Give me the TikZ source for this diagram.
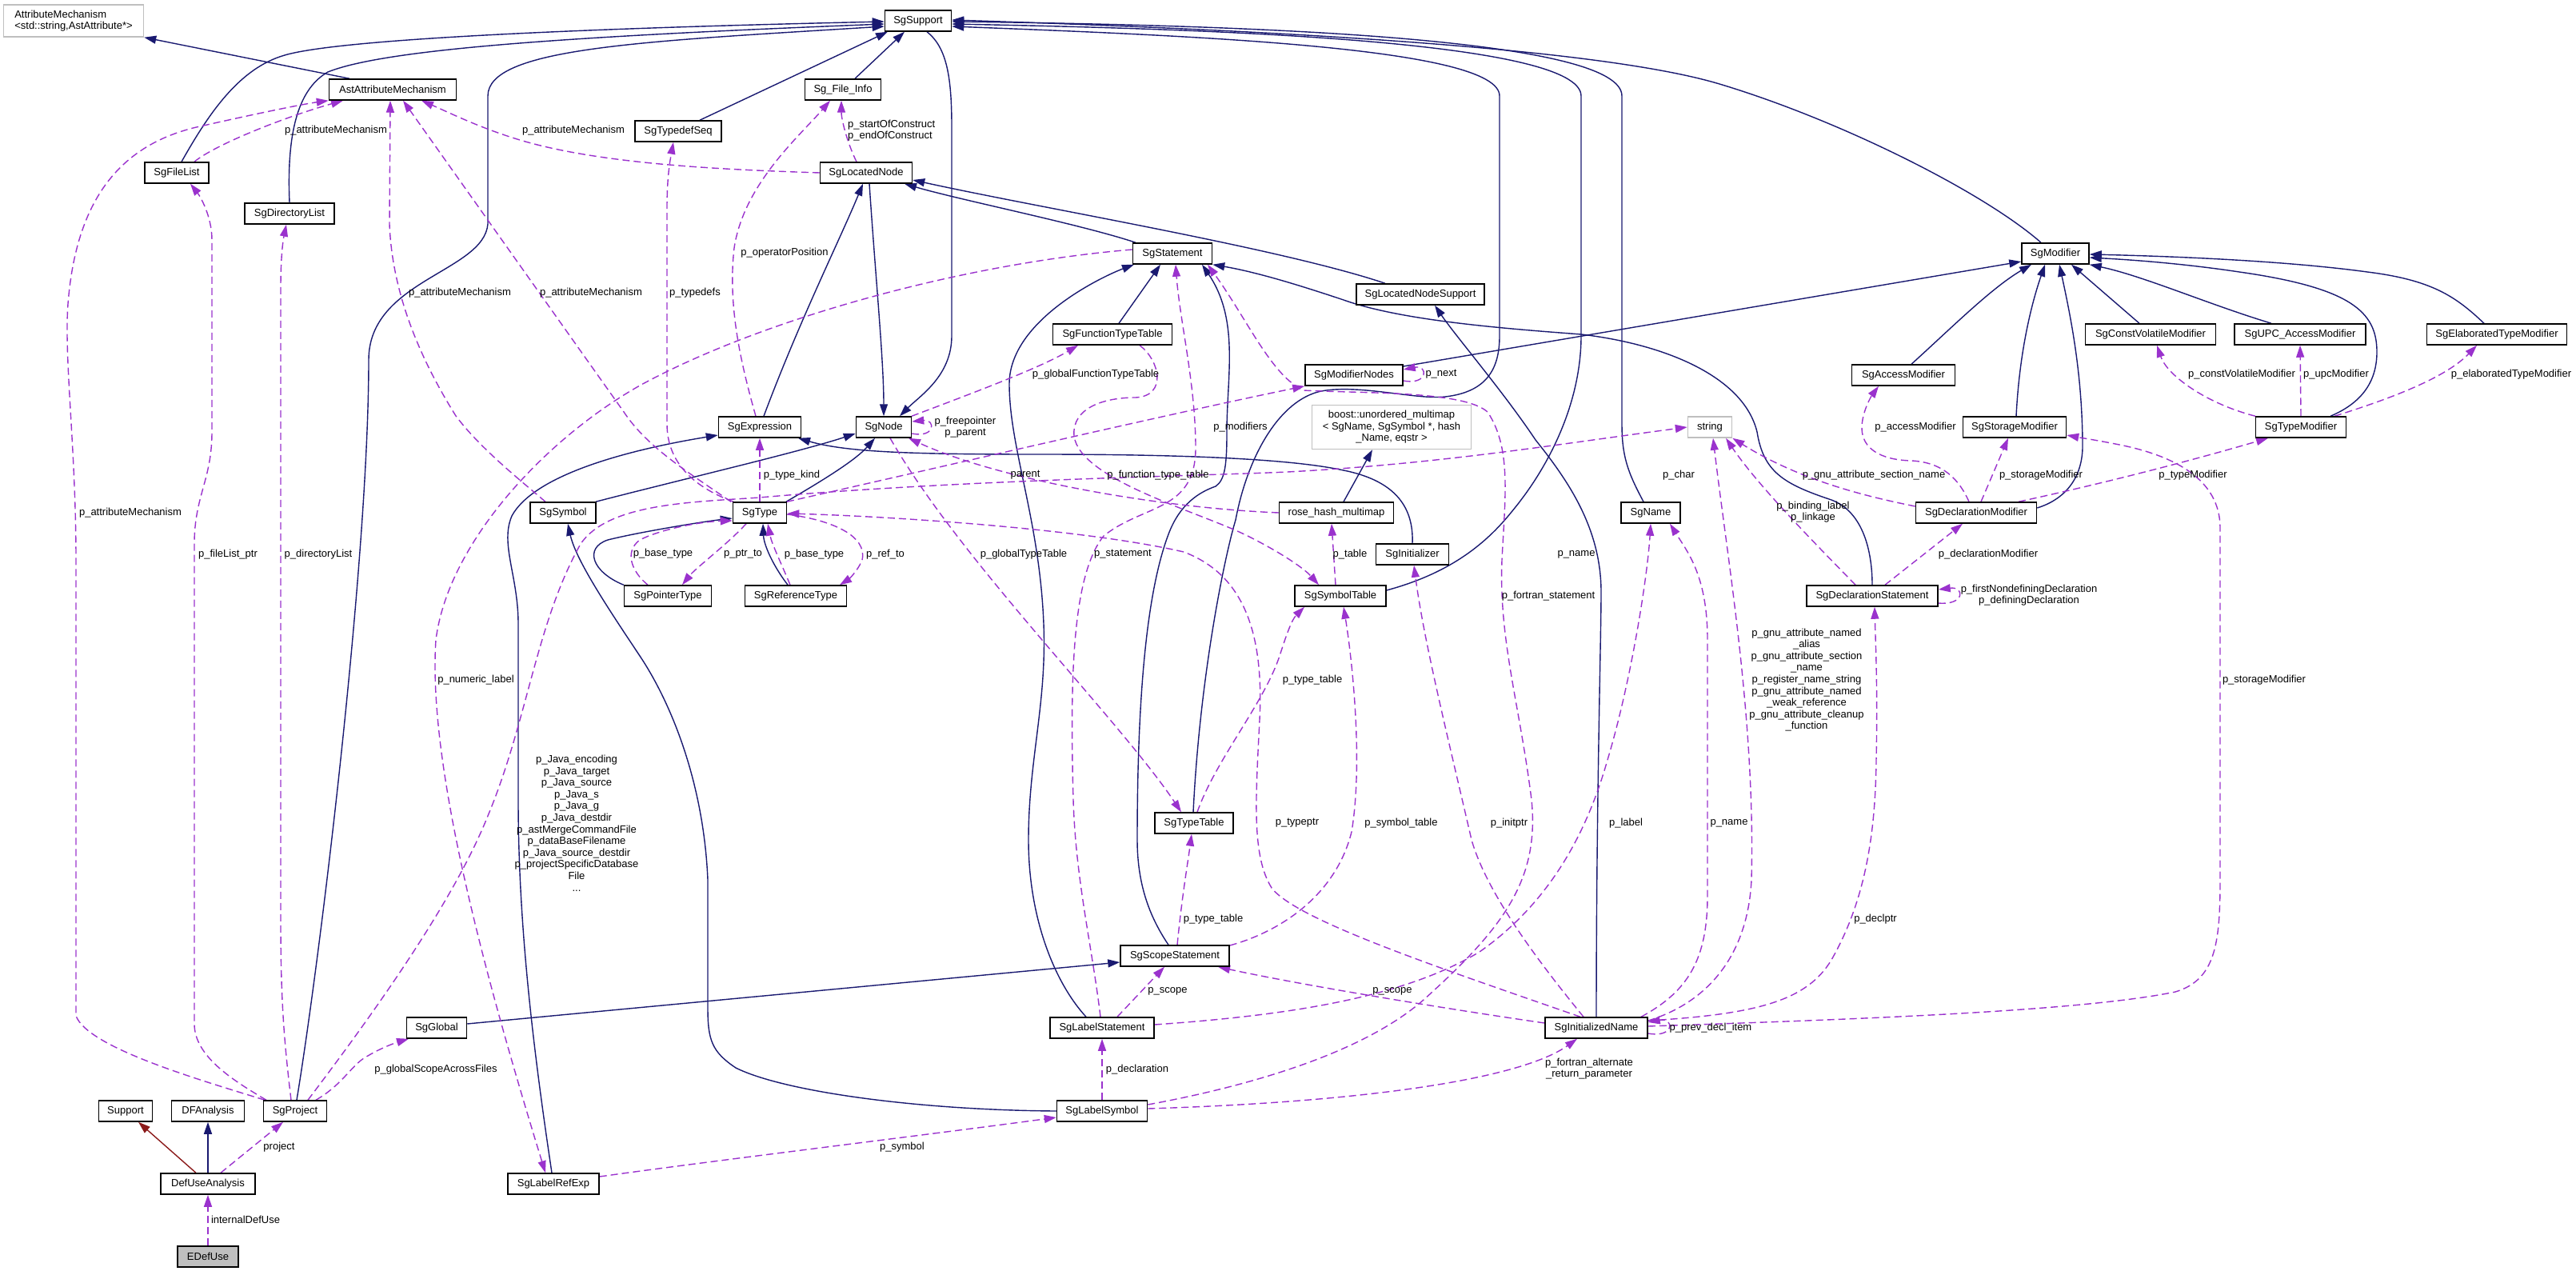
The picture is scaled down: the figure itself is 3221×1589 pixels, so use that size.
\documentclass[tikz,border=0pt]{standalone}
\usepackage{fontspec}
\setmainfont{Liberation Sans}
\usetikzlibrary{arrows.meta}
\pgfdeclarelayer{edgelayer}
\pgfsetlayers{edgelayer,main}
\definecolor{edgenavy}{HTML}{191970}
\definecolor{edgeorchid}{HTML}{9A32CD}
\definecolor{edgered}{HTML}{8B1A1A}
\definecolor{boxgrey}{HTML}{BFBFBF}
\newcommand\dxfont{\fontsize{13}{14.6}\selectfont}
\begin{document}
\begin{tikzpicture}[x=1pt,y=-1pt,
  cls/.style={draw=black, line width=1.5pt, fill=white, minimum height=26pt, inner xsep=2pt, inner ysep=0pt, font=\dxfont},
  gcls/.style={cls, draw=boxgrey},
  inh/.style={draw=edgenavy, line width=1.4pt, -{Triangle[length=15pt,width=10pt]}},
  priv/.style={inh, draw=edgered},
  use/.style={draw=edgeorchid, line width=1.4pt, dash pattern=on 9pt off 5pt, -{Triangle[length=15pt,width=10pt]}},
  lbl/.style={font=\dxfont, inner sep=0pt, align=center},
]
\useasboundingbox (0,0) rectangle (3221,1589);

% ---------------- nodes
\node[gcls, minimum width=175pt, minimum height=40pt, align=left] (attrmech) at (92,26) {AttributeMechanism\\<std::string,AstAttribute*>};
\node[cls, minimum width=83pt] (support) at (1148,26) {SgSupport};
\node[cls, minimum width=159pt] (ast) at (491,112) {AstAttributeMechanism};
\node[cls, minimum width=95pt] (fileinfo) at (1054,112) {Sg\_File\_Info};
\node[cls, minimum width=108pt] (typedefseq) at (848,164) {SgTypedefSeq};
\node[cls, minimum width=80pt] (filelist) at (221,216) {SgFileList};
\node[cls, minimum width=115pt] (locnode) at (1083,216) {SgLocatedNode};
\node[cls, minimum width=112pt] (dirlist) at (362,267) {SgDirectoryList};
\node[cls, minimum width=99pt] (stmt) at (1466,317) {SgStatement};
\node[cls, minimum width=84pt] (modifier) at (2570,317) {SgModifier};
\node[cls, minimum width=160pt] (lns) at (1776,368) {SgLocatedNodeSupport};
\node[cls, minimum width=149pt] (ftt) at (1391,418) {SgFunctionTypeTable};
\node[cls, minimum width=163pt] (cv) at (2689,418) {SgConstVolatileModifier};
\node[cls, minimum width=164pt] (upc) at (2876,418) {SgUPC\_AccessModifier};
\node[cls, minimum width=175pt] (elab) at (3122,418) {SgElaboratedTypeModifier};
\node[cls, minimum width=122pt] (modnodes) at (1693,469) {SgModifierNodes};
\node[cls, minimum width=129pt] (access) at (2380,469) {SgAccessModifier};
\node[cls, minimum width=103pt] (expr) at (950,534) {SgExpression};
\node[cls, minimum width=69pt] (sgnode) at (1105,534) {SgNode};
\node[gcls, minimum width=199pt, minimum height=55pt, align=center] (boost) at (1740,534) {boost::unordered\_multimap\\< SgName, SgSymbol *, hash\\\_Name, eqstr >};
\node[gcls, minimum width=55pt] (string) at (2138,534) {string};
\node[cls, minimum width=129pt] (storage) at (2519,534) {SgStorageModifier};
\node[cls, minimum width=113pt] (typemod) at (2877,534) {SgTypeModifier};
\node[cls, minimum width=82pt] (symbol) at (704,641) {SgSymbol};
\node[cls, minimum width=67pt] (type) at (950,641) {SgType};
\node[cls, minimum width=143pt] (rosehash) at (1671,641) {rose\_hash\_multimap};
\node[cls, minimum width=74pt] (sgname) at (2064,641) {SgName};
\node[cls, minimum width=151pt] (declmod) at (2471,641) {SgDeclarationModifier};
\node[cls, minimum width=91pt] (initializer) at (1766,693) {SgInitializer};
\node[cls, minimum width=109pt] (ptrtype) at (835,745) {SgPointerType};
\node[cls, minimum width=127pt] (reftype) at (995,745) {SgReferenceType};
\node[cls, minimum width=114pt] (symtab) at (1676,745) {SgSymbolTable};
\node[cls, minimum width=164pt] (declstmt) at (2341,745) {SgDeclarationStatement};
\node[cls, minimum width=98pt] (typetable) at (1493,1029) {SgTypeTable};
\node[cls, minimum width=136pt] (scope) at (1469,1195) {SgScopeStatement};
\node[cls, minimum width=75pt] (global) at (546,1285) {SgGlobal};
\node[cls, minimum width=130pt] (labelstmt) at (1378,1285) {SgLabelStatement};
\node[cls, minimum width=128pt] (initname) at (1996,1285) {SgInitializedName};
\node[cls, minimum width=67pt] (supportb) at (157,1389) {Support};
\node[cls, minimum width=91pt] (dfa) at (260,1389) {DFAnalysis};
\node[cls, minimum width=79pt] (project) at (369,1389) {SgProject};
\node[cls, minimum width=113pt] (labelsym) at (1378,1389) {SgLabelSymbol};
\node[cls, minimum width=118pt] (defuse) at (260,1480) {DefUseAnalysis};
\node[cls, minimum width=114pt] (labelref) at (692,1480) {SgLabelRefExp};
\node[cls, fill=boxgrey, minimum width=76pt] (edefuse) at (260,1571) {EDefUse};

% ---------------- labels
\node[lbl] (t1) at (420,163) {p\_attributeMechanism};
\node[lbl] (t2) at (717,163) {p\_attributeMechanism};
\node[lbl] (t3) at (575,366) {p\_attributeMechanism};
\node[lbl] (t4) at (739,366) {p\_attributeMechanism};
\node[lbl] (t5) at (163,641) {p\_attributeMechanism};
\node[lbl, align=left, anchor=west] (t6) at (1060,163) {p\_startOfConstruct\\p\_endOfConstruct};
\node[lbl] (t7) at (981,316) {p\_operatorPosition};
\node[lbl] (t8) at (869,366) {p\_typedefs};
\node[lbl] (t9) at (1370,468) {p\_globalFunctionTypeTable};
\node[lbl] (t10) at (1207,534) {p\_freepointer\\p\_parent};
\node[lbl] (t11) at (1551,534) {p\_modifiers};
\node[lbl] (t12) at (1802,468) {p\_next};
\node[lbl] (t13) at (2395,534) {p\_accessModifier};
\node[lbl] (t14) at (2803,468) {p\_constVolatileModifier};
\node[lbl] (t15) at (2921,468) {p\_upcModifier};
\node[lbl] (t16) at (3140,468) {p\_elaboratedTypeModifier};
\node[lbl] (t17) at (285,693) {p\_fileList\_ptr};
\node[lbl] (t18) at (398,693) {p\_directoryList};
\node[lbl] (t19) at (595,850) {p\_numeric\_label};
\node[lbl] (t20) at (721,1029) {p\_Java\_encoding\\p\_Java\_target\\p\_Java\_source\\p\_Java\_s\\p\_Java\_g\\p\_Java\_destdir\\p\_astMergeCommandFile\\p\_dataBaseFilename\\p\_Java\_source\_destdir\\p\_projectSpecificDatabase\\File\\...};
\node[lbl] (t21) at (990,594) {p\_type\_kind};
\node[lbl] (t22) at (1282,594) {parent};
\node[lbl] (t23) at (1448,594) {p\_function\_type\_table};
\node[lbl] (t24) at (829,692) {p\_base\_type};
\node[lbl] (t25) at (929,693) {p\_ptr\_to};
\node[lbl] (t26) at (1018,693) {p\_base\_type};
\node[lbl] (t27) at (1107,693) {p\_ref\_to};
\node[lbl] (t28) at (1280,693) {p\_globalTypeTable};
\node[lbl] (t29) at (1404,693) {p\_statement};
\node[lbl] (t30) at (1688,693) {p\_table};
\node[lbl] (t31) at (1971,693) {p\_name};
\node[lbl] (t32) at (2099,594) {p\_char};
\node[lbl] (t33) at (2267,640) {p\_binding\_label\\p\_linkage};
\node[lbl] (t34) at (2343,594) {p\_gnu\_attribute\_section\_name};
\node[lbl] (t35) at (2552,594) {p\_storageModifier};
\node[lbl] (t36) at (2742,594) {p\_typeModifier};
\node[lbl] (t37) at (2486,693) {p\_declarationModifier};
\node[lbl] (t38) at (2537,744) {p\_firstNondefiningDeclaration\\p\_definingDeclaration};
\node[lbl] (t39) at (1936,745) {p\_fortran\_statement};
\node[lbl] (t40) at (1641,850) {p\_type\_table};
\node[lbl] (t41) at (2259,850) {p\_gnu\_attribute\_named\\\_alias\\p\_gnu\_attribute\_section\\\_name\\p\_register\_name\_string\\p\_gnu\_attribute\_named\\\_weak\_reference\\p\_gnu\_attribute\_cleanup\\\_function};
\node[lbl] (t42) at (2831,850) {p\_storageModifier};
\node[lbl] (t43) at (1622,1029) {p\_typeptr};
\node[lbl] (t44) at (1752,1029) {p\_symbol\_table};
\node[lbl] (t45) at (1887,1029) {p\_initptr};
\node[lbl] (t46) at (2033,1029) {p\_label};
\node[lbl] (t47) at (2162,1029) {p\_name};
\node[lbl] (t48) at (1517,1149) {p\_type\_table};
\node[lbl] (t49) at (2345,1149) {p\_declptr};
\node[lbl] (t50) at (1460,1239) {p\_scope};
\node[lbl] (t51) at (1741,1239) {p\_scope};
\node[lbl] (t52) at (545,1337) {p\_globalScopeAcrossFiles};
\node[lbl] (t53) at (1422,1337) {p\_declaration};
\node[lbl] (t54) at (1987,1336) {p\_fortran\_alternate\\\_return\_parameter};
\node[lbl] (t55) at (2139,1285) {p\_prev\_decl\_item};
\node[lbl] (t56) at (349,1434) {project};
\node[lbl] (t57) at (1128,1434) {p\_symbol};
\node[lbl] (t58) at (307,1525) {internalDefUse};

\begin{pgfonlayer}{edgelayer}
% ---------------- inheritance
\draw[inh] ([xshift=-54pt]ast.north) -- (attrmech.south east);
\draw[inh] ([xshift=6pt]filelist.north) .. controls (262,140) and (300,85) .. (356,69) .. controls (420,50) and (700,36) .. ([yshift=-1pt]support.west);
\draw[inh] (dirlist.north) .. controls (358,160) and (375,110) .. (410,90) .. controls (480,62) and (700,46) .. ([yshift=-4pt]support.west);
\draw[inh] ([xshift=2pt]project.north) .. controls (400,1200) and (461,700) .. (461,450) .. controls (461,350) and (605,340) .. (610,280) -- (610,120) .. controls (610,60) and (800,52) .. ([yshift=-7pt]support.west);
\draw[inh] ([xshift=27pt]typedefseq.north) -- ([xshift=-38pt]support.south);
\draw[inh] ([xshift=15pt]fileinfo.north) -- ([xshift=-17pt]support.south);
\draw[inh] ([xshift=11pt]support.south) .. controls (1185,60) and (1190,100) .. (1190,160) -- (1190,420) .. controls (1190,470) and (1150,495) .. ([xshift=20pt]sgnode.north);
\draw[inh] ([xshift=4pt]locnode.south) .. controls (1095,350) and (1105,450) .. (sgnode.north);
\draw[inh] ([xshift=5pt]expr.north) .. controls (1000,400) and (1050,300) .. ([xshift=-4pt]locnode.south);
\draw[inh] ([xshift=-46pt]stmt.north) .. controls (1350,280) and (1200,250) .. ([xshift=48pt]locnode.south);
\draw[inh] ([xshift=-44pt]lns.north) .. controls (1600,310) and (1300,260) .. ([yshift=-9pt]locnode.east);
\draw[inh] ([xshift=8pt]ftt.north) -- ([xshift=-15pt]stmt.south);
\draw[inh] ([xshift=-20pt]labelstmt.north) .. controls (1320,1230) and (1286,1150) .. (1286,1050) .. controls (1286,950) and (1309,880) .. (1305,780) .. controls (1300,650) and (1262,560) .. (1262,480) .. controls (1262,400) and (1380,345) .. ([xshift=-48pt]stmt.south);
\draw[inh] ([xshift=-8pt]scope.north) .. controls (1440,1150) and (1422,1110) .. (1422,1050) .. controls (1422,900) and (1430,750) .. (1461,668) .. controls (1475,630) and (1500,615) .. (1520,608) .. controls (1532,600) and (1534,580) .. (1534,540) .. controls (1534,470) and (1550,400) .. ([xshift=37pt]stmt.south);
\draw[inh] (declstmt.north) .. controls (2341,690) and (2330,640) .. (2290,625) .. controls (2230,605) and (2205,590) .. (2197,540) .. controls (2180,470) and (2080,430) .. (1977,418) .. controls (1870,410) and (1750,400) .. (1680,375) .. controls (1620,355) and (1570,340) .. (stmt.south east);
\draw[inh] (initname.north) .. controls (1996,1000) and (2002,800) .. (2002,740) .. controls (2002,660) and (1960,600) .. (1920,550) .. controls (1880,490) and (1820,420) .. ([xshift=18pt]lns.south);
\draw[inh] ([xshift=41pt]symbol.north) .. controls (850,600) and (1000,565) .. ([yshift=-8pt]sgnode.west);
\draw[inh] ([xshift=33pt]type.north) .. controls (1030,600) and (1070,575) .. ([xshift=-11pt]sgnode.south);
\draw[inh] ([xshift=-2pt]labelref.north) .. controls (665,1300) and (648,1150) .. (648,1000) -- (648,780) .. controls (648,720) and (625,680) .. (640,645) .. controls (670,590) and (800,560) .. ([yshift=-10pt]expr.west);
\draw[inh] (initializer.north) .. controls (1768,630) and (1740,600) .. (1680,588) .. controls (1620,575) and (1500,568) .. (1300,568) .. controls (1150,568) and (1060,566) .. ([xshift=48pt]expr.south);
\draw[inh] (labelsym.west) .. controls (1150,1388) and (980,1365) .. (920,1335) .. controls (890,1315) and (885,1300) .. (885,1260) -- (885,1100) .. controls (880,980) and (840,880) .. (800,820) .. controls (760,760) and (720,700) .. ([xshift=6pt]symbol.south);
\draw[inh] (ptrtype.north west) .. controls (740,715) and (730,685) .. (760,675) .. controls (800,665) and (880,652) .. ([yshift=-7pt]type.west);
\draw[inh] ([xshift=-10pt]reftype.north) .. controls (965,705) and (955,680) .. ([xshift=4pt]type.south);
\draw[inh] ([yshift=5pt]global.east) -- ([yshift=-8pt]scope.west);
\draw[inh] ([xshift=9pt]rosehash.north) -- ([xshift=-24pt]boost.south);
\draw[inh] ([yshift=11pt]modnodes.east) -- ([yshift=-10pt]modifier.west);
\draw[inh] ([xshift=10pt]access.north) .. controls (2440,410) and (2490,360) .. ([xshift=-30pt]modifier.south);
\draw[inh] ([xshift=2pt]storage.north) .. controls (2525,440) and (2540,380) .. ([xshift=-13pt]modifier.south);
\draw[inh] ([yshift=6pt]declmod.east) .. controls (2580,625) and (2603,600) .. (2604,560) .. controls (2604,470) and (2590,400) .. ([xshift=5pt]modifier.south);
\draw[inh] ([xshift=-14pt]cv.north) -- ([xshift=20pt]modifier.south);
\draw[inh] ([xshift=-36pt]upc.north) .. controls (2760,380) and (2680,345) .. (modifier.south east);
\draw[inh] ([xshift=37pt]typemod.north) .. controls (2950,505) and (2972,480) .. (2972,440) .. controls (2972,390) and (2940,360) .. (2800,340) .. controls (2720,328) and (2650,324) .. ([yshift=-5pt]modifier.east);
\draw[inh] ([xshift=-16pt]elab.north) .. controls (3070,370) and (3040,350) .. (2960,340) .. controls (2850,325) and (2700,320) .. ([yshift=-1pt]modifier.east);
\draw[inh] ([xshift=-18pt]modifier.north) .. controls (2480,240) and (2300,150) .. (2150,105) .. controls (2000,60) and (1600,38) .. ([yshift=1pt]support.east);
\draw[inh] ([xshift=-1pt]typetable.north) .. controls (1500,850) and (1530,700) .. (1545,650) .. controls (1560,570) and (1600,500) .. (1652,489) .. controls (1700,480) and (1770,500) .. (1807,496) .. controls (1860,490) and (1875,460) .. (1875,420) -- (1875,120) .. controls (1875,60) and (1500,45) .. ([yshift=-7pt]support.east);
\draw[inh] ([yshift=7pt]symtab.east) .. controls (1800,720) and (1850,690) .. (1890,640) .. controls (1940,580) and (1977,500) .. (1977,420) -- (1977,120) .. controls (1977,50) and (1500,36) .. ([yshift=-4pt]support.east);
\draw[inh] ([xshift=-9pt]sgname.north) .. controls (2035,590) and (2028,570) .. (2028,530) -- (2028,120) .. controls (2028,50) and (1600,32) .. ([yshift=-1pt]support.east);
\draw[priv] ([xshift=-15pt]defuse.north) -- ([xshift=16pt]supportb.south);
\draw[inh] (defuse.north) -- (dfa.south);

% ---------------- usage
\draw[use] ([xshift=-38pt]project.north) .. controls (250,1350) and (110,1310) .. (95,1270) -- (95,700) .. controls (95,560) and (80,450) .. (85,380) .. controls (95,250) and (150,180) .. (250,158) .. controls (330,140) and (380,130) .. (ast.south west);
\draw[use] ([xshift=22pt]filelist.north) .. controls (270,180) and (360,145) .. ([xshift=-62pt]ast.south);
\draw[use] (locnode.west) .. controls (900,212) and (750,205) .. (650,175) .. controls (600,160) and (560,140) .. ([xshift=36pt]ast.south);
\draw[use] ([xshift=-22pt]symbol.north) .. controls (650,600) and (600,560) .. (570,520) .. controls (520,440) and (490,360) .. (487,280) -- ([xshift=-3pt]ast.south);
\draw[use] ([xshift=-36pt]type.north) .. controls (860,590) and (810,560) .. (780,515) -- ([xshift=13pt]ast.south);
\draw[use] ([xshift=-12pt]locnode.north) .. controls (1060,180) and (1052,150) .. ([xshift=-2pt]fileinfo.south);
\draw[use] ([xshift=-5pt]expr.north) .. controls (925,450) and (910,380) .. (918,310) .. controls (930,230) and (1000,170) .. ([xshift=-16pt]fileinfo.south);
\draw[use] ([xshift=-33pt]type.north) .. controls (870,610) and (834,580) .. (834,530) -- (834,260) .. controls (834,220) and (838,200) .. ([xshift=-6pt]typedefseq.south);
\draw[use] ([xshift=-36pt]project.north) .. controls (290,1350) and (243,1320) .. (243,1280) -- (243,680) .. controls (243,620) and (265,600) .. (265,540) -- (265,300) .. controls (265,270) and (250,245) .. ([xshift=17pt]filelist.south);
\draw[use] ([xshift=-5pt]project.north) .. controls (355,1300) and (351,1250) .. (351,1150) -- (351,360) .. controls (351,320) and (354,300) .. ([xshift=-4pt]dirlist.south);
\draw[use] ([xshift=26pt]project.north) .. controls (430,1355) and (440,1330) .. (460,1320) .. controls (480,1308) and (500,1302) .. ([xshift=-35pt]global.south);
\draw[use] ([xshift=16pt]project.north) .. controls (480,1250) and (570,1120) .. (610,1020) .. controls (660,900) and (670,780) .. (726,680) .. controls (760,630) and (860,628) .. (950,622) .. controls (1200,600) and (1500,595) .. (1610,590) .. controls (1800,580) and (1950,555) .. (string.west);
\draw[use] ([yshift=5pt]stmt.west) .. controls (1200,330) and (950,400) .. (800,482) .. controls (680,550) and (560,680) .. (545,800) .. controls (535,950) and (600,1200) .. ([xshift=-10pt]labelref.north);
\draw[use] ([xshift=16pt]defuse.north) -- ([xshift=-15pt]project.south);
\draw[use] (edefuse.north) -- (defuse.south);
\draw[use] ([yshift=9pt]labelref.east) .. controls (900,1450) and (1150,1420) .. ([yshift=-8pt]labelsym.west);
\draw[use] (labelsym.north) -- (labelstmt.south);
\draw[use] ([xshift=19pt]labelstmt.north) -- ([xshift=-13pt]scope.south);
\draw[use] ([xshift=3pt]scope.north) .. controls (1478,1120) and (1485,1080) .. ([xshift=-3pt]typetable.south);
\draw[use] ([xshift=4pt]typetable.north) .. controls (1520,950) and (1580,880) .. (1600,820) .. controls (1608,795) and (1615,775) .. ([xshift=-45pt]symtab.south);
\draw[use] ([yshift=13pt]scope.east) .. controls (1600,1165) and (1670,1120) .. (1690,1040) .. controls (1705,950) and (1690,820) .. ([xshift=4pt]symtab.south);
\draw[use] ([xshift=-6pt]symtab.north) -- ([xshift=-6pt]rosehash.south);
\draw[use] ([xshift=34pt]ftt.south) .. controls (1450,450) and (1460,495) .. (1420,497) .. controls (1380,497) and (1340,510) .. (1343,545) .. controls (1350,600) and (1500,640) .. (1560,670) .. controls (1600,690) and (1630,710) .. ([xshift=-27pt]symtab.north);
\draw[use] ([xshift=-2pt]labelstmt.north) .. controls (1365,1180) and (1345,1100) .. (1342,1000) .. controls (1338,850) and (1340,720) .. (1380,670) .. controls (1430,630) and (1495,640) .. (1495,560) .. controls (1495,480) and (1475,400) .. ([xshift=4pt]stmt.south);
\draw[use] ([yshift=8pt]labelsym.east) .. controls (1550,1360) and (1700,1320) .. (1780,1250) .. controls (1880,1160) and (1925,1100) .. (1915,1000) .. controls (1900,880) and (1874,800) .. (1878,700) .. controls (1882,620) and (1890,560) .. (1860,515) .. controls (1830,488) and (1700,492) .. (1630,488) .. controls (1590,470) and (1560,400) .. ([xshift=44pt]stmt.south);
\draw[use] ([yshift=3pt]labelsym.east) .. controls (1700,1378) and (1900,1350) .. ([xshift=-24pt]initname.south);
\draw[use] ([yshift=4pt]labelstmt.east) .. controls (1600,1270) and (1750,1250) .. (1850,1190) .. controls (1950,1120) and (1990,1020) .. (2010,950) .. controls (2040,850) and (2060,720) .. (sgname.south);
\draw[use] ([yshift=6pt]initname.west) .. controls (1800,1260) and (1620,1230) .. ([xshift=54pt]scope.south);
\draw[use] ([xshift=-20pt]initname.north) .. controls (1800,1210) and (1620,1150) .. (1590,1110) .. controls (1565,1070) and (1570,1000) .. (1575,900) .. controls (1580,800) and (1560,720) .. (1480,690) .. controls (1350,660) and (1100,645) .. ([yshift=-1pt]type.east);
\draw[use] ([xshift=-16pt]initname.north) .. controls (1930,1210) and (1860,1120) .. (1840,1050) .. controls (1810,920) and (1780,800) .. ([xshift=2pt]initializer.south);
\draw[use] ([xshift=56pt]initname.north) .. controls (2110,1240) and (2135,1200) .. (2135,1120) -- (2135,800) .. controls (2135,720) and (2110,690) .. ([xshift=24pt]sgname.south);
\draw[use] ([yshift=9pt]initname.east) .. controls (2130,1255) and (2185,1200) .. (2190,1100) .. controls (2195,900) and (2160,700) .. ([xshift=4pt]string.south);
\draw[use] ([yshift=9pt]initname.east) .. controls (2200,1268) and (2260,1250) .. (2290,1200) .. controls (2330,1130) and (2345,1050) .. (2346,950) .. controls (2348,860) and (2345,800) .. ([xshift=3pt]declstmt.south);
\draw[use] ([yshift=2pt]initname.east) .. controls (2300,1275) and (2600,1265) .. (2720,1240) .. controls (2770,1225) and (2776,1180) .. (2776,1100) -- (2776,660) .. controls (2776,600) and (2720,570) .. (2650,556) .. controls (2620,550) and (2600,547) .. ([yshift=-10pt]storage.east);
\draw[use] ([yshift=-7pt]initname.east) .. controls (2094,1298) and (2094,1272) .. ([yshift=7pt]initname.east);
\draw[use] ([xshift=-21pt]declstmt.north) .. controls (2280,690) and (2200,610) .. ([xshift=20pt]string.south);
\draw[use] ([yshift=8pt]declmod.west) .. controls (2330,620) and (2250,600) .. (string.south east);
\draw[use] ([xshift=16pt]declstmt.north) -- ([xshift=-17pt]declmod.south);
\draw[use] ([yshift=-9pt]declstmt.east) .. controls (2457,757) and (2457,733) .. ([yshift=8pt]declstmt.east);
\draw[use] ([xshift=6pt]declmod.north) -- ([xshift=-8pt]storage.south);
\draw[use] ([xshift=53pt]declmod.north) .. controls (2650,600) and (2760,570) .. ([xshift=-41pt]typemod.south);
\draw[use] ([xshift=-9pt]declmod.north) .. controls (2450,600) and (2430,578) .. (2390,576) .. controls (2350,575) and (2328,560) .. (2328,535) .. controls (2328,515) and (2340,495) .. ([xshift=-31pt]access.south);
\draw[use] ([xshift=-57pt]typemod.north) .. controls (2760,505) and (2710,470) .. ([xshift=8pt]cv.south);
\draw[use] (typemod.north) -- (upc.south);
\draw[use] ([xshift=42pt]typemod.north) .. controls (3000,495) and (3060,470) .. ([xshift=-25pt]elab.south);
\draw[use] ([yshift=-7pt]modnodes.east) .. controls (1786,482) and (1786,456) .. ([yshift=7pt]modnodes.east);
\draw[use] ([xshift=34pt]type.north) .. controls (1150,590) and (1450,520) .. (modnodes.south west);
\draw[use] ([xshift=35pt]sgnode.north) .. controls (1220,490) and (1300,460) .. ([xshift=-43pt]ftt.south);
\draw[use] ([xshift=8pt]sgnode.south) .. controls (1200,700) and (1400,900) .. ([xshift=-16pt]typetable.north);
\draw[use] (rosehash.west) .. controls (1450,635) and (1250,600) .. ([xshift=31pt]sgnode.south);
\draw[use] ([yshift=-8pt]sgnode.east) .. controls (1170,548) and (1170,524) .. ([yshift=7pt]sgnode.east);
\draw[use] ([xshift=-17pt]type.south) .. controls (910,680) and (870,710) .. ([xshift=18pt]ptrtype.north);
\draw[use] ([xshift=-25pt]ptrtype.north) .. controls (790,715) and (780,690) .. (800,675) .. controls (830,660) and (880,652) .. ([yshift=-10pt]type.west);
\draw[use] ([yshift=-2pt]type.east) .. controls (1040,650) and (1085,670) .. (1078,700) .. controls (1072,715) and (1060,725) .. ([xshift=55pt]reftype.north);
\draw[use] ([xshift=-7pt]reftype.north) .. controls (975,700) and (965,680) .. ([xshift=10pt]type.south);
\draw[use] (type.north) -- (expr.south);
\end{pgfonlayer}
\end{tikzpicture}
\end{document}
